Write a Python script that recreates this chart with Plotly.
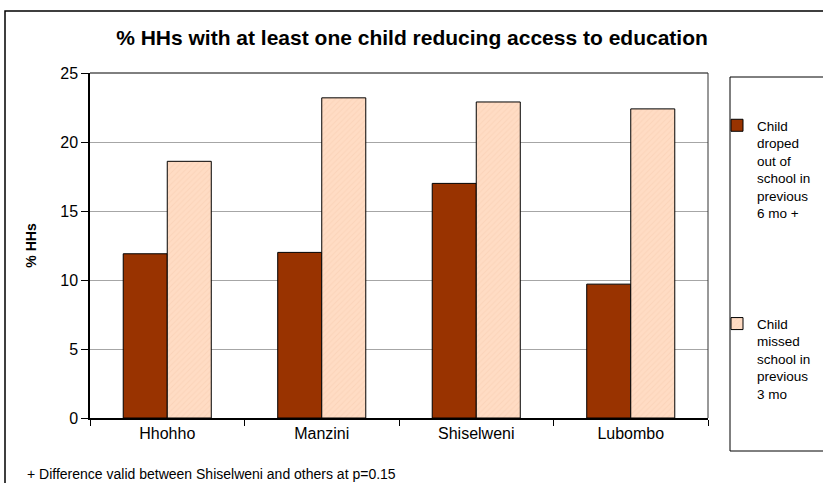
import plotly.graph_objects as go

# Regions and survey results (% of households)
regions = ["Hhohho", "Manzini", "Shiselweni", "Lubombo"]
dropped_out_6mo = [11.9, 12.0, 17.0, 9.7]
missed_school_3mo = [18.6, 23.2, 22.9, 22.4]

series_names = [
    "Child<br>droped<br>out of<br>school in<br>previous<br>6 mo +",
    "Child<br>missed<br>school in<br>previous<br>3 mo",
]
y_ticks = [0, 5, 10, 15, 20, 25]

title_text = "% HHs with at least one child reducing access to education"
y_title = "% HHs"
footnote = "+ Difference valid between Shiselweni and others at p=0.15"

W, H = 823, 483
L, R, T, B = 90, 708, 73, 418  # plot area in pixels
FONT = "Arial, Liberation Sans, sans-serif"


def px_x(px):
    return (px - L) / (R - L)


def px_y(py):
    return (B - py) / (B - T)


fig = go.Figure()
fig.add_trace(go.Bar(
    x=regions, y=dropped_out_6mo, name=series_names[0],
    marker=dict(color="#993300", line=dict(color="#000000", width=1)),
    legendgroup="a",
))
fig.add_trace(go.Bar(
    x=regions, y=missed_school_3mo, name=series_names[1],
    marker=dict(color="#FFDCC4", line=dict(color="#000000", width=1),
                pattern=dict(shape="/", fgcolor="#F6CBAE", size=4, solidity=0.25)),
    legendgroup="b",
))

fig.update_layout(
    width=W, height=H,
    margin=dict(l=L, r=W - R, t=T, b=H - B, autoexpand=False),
    paper_bgcolor="white", plot_bgcolor="white",
    barmode="group", bargap=0.43, bargroupgap=0,
    font=dict(family=FONT, color="#000000", size=15),
    title=dict(text=title_text, x=px_x(412), xref="paper", xanchor="center",
               y=1 - 38 / H, yanchor="middle",
               font=dict(family=FONT, size=21, color="#000000", weight="bold")),
    legend=dict(x=px_x(717), y=px_y(110), xanchor="left", yanchor="top",
                xref="paper", yref="paper",
                font=dict(family=FONT, size=13.5), traceorder="grouped",
                tracegroupgap=90, valign="top", itemwidth=30,
                bgcolor="rgba(0,0,0,0)", borderwidth=0),
    showlegend=True,
)

fig.update_xaxes(
    type="category", tickson="boundaries", ticks="outside", ticklen=6,
    tickcolor="#000000", showline=True, linecolor="#000000", linewidth=1.5,
    mirror=False, showgrid=False, tickfont=dict(size=16),
)
fig.update_yaxes(
    range=[0, 25], tickvals=y_ticks, ticks="outside", ticklen=7,
    tickcolor="#000000", showline=True, linecolor="#000000", linewidth=1.5,
    showgrid=True, gridcolor="#A6A6A6", gridwidth=1, zeroline=False,
    tickfont=dict(size=16),
    title=dict(text=y_title, font=dict(size=14, weight="bold"), standoff=20),
)

shapes = [
    # plot area frame (top and right edges)
    dict(type="line", xref="paper", yref="paper", x0=0, x1=1, y0=1, y1=1,
         line=dict(color="#000000", width=1)),
    dict(type="line", xref="paper", yref="paper", x0=1, x1=1, y0=0, y1=1,
         line=dict(color="#333333", width=1)),
    # legend box
    dict(type="rect", xref="paper", yref="paper",
         x0=px_x(730), x1=px_x(835), y0=px_y(77), y1=px_y(451),
         line=dict(color="#000000", width=1), fillcolor="rgba(0,0,0,0)"),
    # chart frame
    dict(type="rect", xref="paper", yref="paper",
         x0=px_x(5), x1=px_x(840), y0=px_y(11), y1=px_y(500),
         line=dict(color="#000000", width=1.5), fillcolor="rgba(0,0,0,0)"),
]
fig.update_layout(shapes=shapes)

fig.add_annotation(
    text=footnote, xref="paper", yref="paper", x=px_x(25), y=px_y(474),
    xanchor="left", yanchor="middle", showarrow=False,
    font=dict(family=FONT, size=14, color="#000000"),
)

fig.write_html("out.html")
